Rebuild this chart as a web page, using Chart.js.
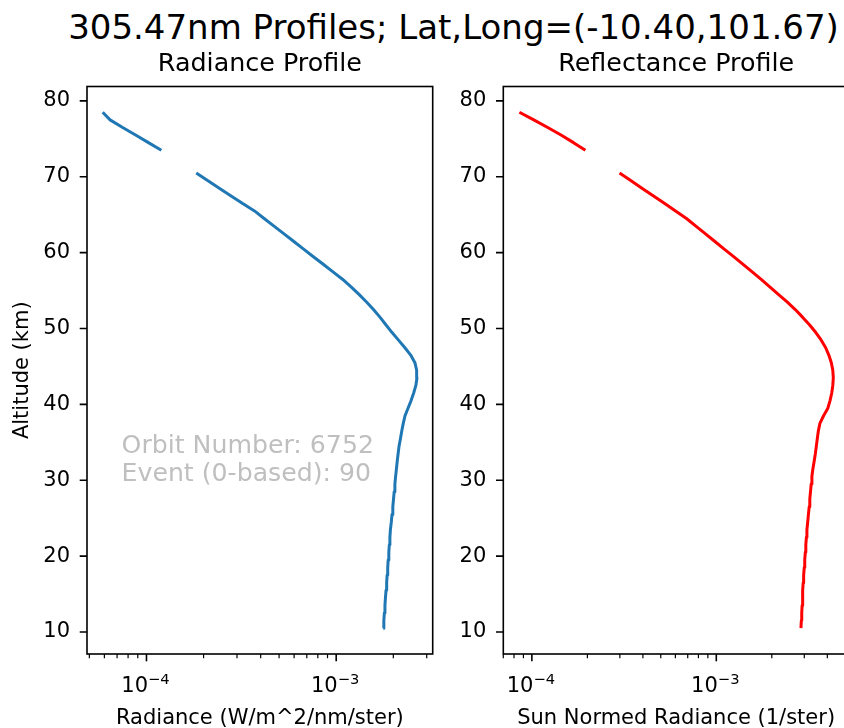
<!DOCTYPE html>
<html>
<head>
<meta charset="utf-8">
<script src="https://cdn.jsdelivr.net/npm/chart.js@4/dist/chart.umd.min.js"></script>
<style>
  html, body { margin: 0; padding: 0; background: #fff; overflow: hidden; width: 844px; height: 728px; }
  #fig { position: relative; width: 844px; height: 728px; overflow: hidden; background: #fff; }
  #suptitle { position: absolute; left: 0; top: 9.5px; width: 907px; text-align: center;
              font: 34px/1 'DejaVu Sans', sans-serif; color: #000; white-space: nowrap; }
  canvas { position: absolute; top: 0; }
  #radCanvas { left: 0; }
  #refCanvas { left: 440px; }
</style>
</head>
<body>
<div id="fig">
  <div id="suptitle">305.47nm Profiles; Lat,Long=(-10.40,101.67)</div>
  <canvas id="radCanvas" width="440" height="728"></canvas>
  <canvas id="refCanvas" width="467" height="728"></canvas>
</div>
<script>
// Tangent altitudes of the limb profile (km)
const altitudes = [
  10.5, 11.5, 12.5, 13.5, 14.5, 15.5, 16.5, 17.5, 18.5, 19.5,
  20.5, 21.5, 22.5, 23.5, 24.5, 25.5, 26.5, 27.5, 28.5, 29.5,
  30.5, 31.5, 32.5, 33.5, 34.5, 35.5, 36.5, 37.5, 38.5, 39.5,
  40.5, 41.5, 42.5, 43.5, 44.5, 45.5, 46.5, 47.5, 48.5, 49.5,
  50.5, 51.5, 52.5, 53.5, 54.5, 55.5, 56.5, 57.5, 58.5, 59.5,
  60.5, 61.5, 62.5, 63.5, 64.5, 65.5, 66.5, 67.5, 68.5, 69.5,
  70.5, 71.5, 72.5, 73.5, 74.5, 75.5, 76.5, 77.5, 78.5
];

// Radiance (W/m^2/nm/ster); null = missing sample
const radiance = [
  1.771e-3, 1.783e-3, 1.794e-3, 1.807e-3, 1.818e-3, 1.831e-3, 1.845e-3, 1.856e-3, 1.869e-3, 1.880e-3,
  1.894e-3, 1.906e-3, 1.919e-3, 1.931e-3, 1.952e-3, 1.969e-3, 1.988e-3, 2.005e-3, 2.022e-3, 2.039e-3,
  2.057e-3, 2.077e-3, 2.097e-3, 2.120e-3, 2.145e-3, 2.182e-3, 2.216e-3, 2.257e-3, 2.306e-3, 2.391e-3,
  2.482e-3, 2.561e-3, 2.630e-3, 2.666e-3, 2.655e-3, 2.600e-3, 2.470e-3, 2.298e-3, 2.125e-3, 1.965e-3,
  1.827e-3, 1.700e-3, 1.572e-3, 1.445e-3, 1.319e-3, 1.198e-3, 1.079e-3, 9.58e-4, 8.51e-4, 7.55e-4,
  6.71e-4, 5.96e-4, 5.29e-4, 4.70e-4, 4.17e-4, 3.71e-4, 3.20e-4, 2.78e-4, 2.42e-4, 2.10e-4,
  1.83e-4, null, null, 1.198e-4, 1.024e-4, 8.76e-5, 7.49e-5, 6.43e-5, 5.88e-5
];

// Sun-normalised radiance (1/ster); null = missing sample
const reflectance = [
  2.877e-3, 2.892e-3, 2.906e-3, 2.921e-3, 2.932e-3, 2.947e-3, 2.961e-3, 2.976e-3, 2.998e-3, 3.017e-3,
  3.039e-3, 3.058e-3, 3.081e-3, 3.100e-3, 3.131e-3, 3.159e-3, 3.190e-3, 3.214e-3, 3.242e-3, 3.270e-3,
  3.299e-3, 3.340e-3, 3.394e-3, 3.444e-3, 3.487e-3, 3.531e-3, 3.575e-3, 3.646e-3, 3.817e-3, 4.027e-3,
  4.138e-3, 4.226e-3, 4.283e-3, 4.310e-3, 4.283e-3, 4.205e-3, 4.076e-3, 3.913e-3, 3.701e-3, 3.457e-3,
  3.200e-3, 2.935e-3, 2.680e-3, 2.420e-3, 2.170e-3, 1.950e-3, 1.745e-3, 1.560e-3, 1.392e-3, 1.237e-3,
  1.100e-3, 9.793e-4, 8.707e-4, 7.750e-4, 6.890e-4, 6.012e-4, 5.228e-4, 4.546e-4, 3.952e-4, 3.436e-4,
  2.988e-4, null, null, 1.951e-4, 1.682e-4, 1.439e-4, 1.219e-4, 1.024e-4, 8.56e-5
];

const altitudeTicks = [10, 20, 30, 40, 50, 60, 70, 80];
const orbitNotes = ['Orbit Number: 6752', 'Event (0-based): 90'];

const FONT = "'DejaVu Sans', sans-serif";
const LABEL_PX = 21;

function isDecade(v) {
  const l = Math.log10(v);
  return Math.abs(l - Math.round(l)) < 1e-9;
}

// major (decade) and minor (2..9) ticks inside [min, max]
function logTicks(min, max) {
  const out = [];
  for (let e = Math.floor(Math.log10(min)); e <= Math.ceil(Math.log10(max)); e++) {
    for (let k = 1; k <= 9; k++) {
      const v = k * Math.pow(10, e);
      if (v >= min && v <= max) out.push(v);
    }
  }
  return out;
}

// frame, tick marks, decade labels, axis titles, subplot title and notes
function decorPlugin(cfg) {
  return {
    id: 'profileDecor',
    afterDraw(chart) {
      const { ctx, chartArea: a } = chart;
      const xs = chart.scales.x, ys = chart.scales.y;
      ctx.save();
      ctx.strokeStyle = '#000';
      ctx.lineWidth = 1.6;
      ctx.strokeRect(a.left, a.top, a.right - a.left, a.bottom - a.top);

      ctx.beginPath();
      ys.ticks.forEach(t => {
        const py = ys.getPixelForValue(t.value);
        ctx.moveTo(a.left, py); ctx.lineTo(a.left - 7.3, py);
      });
      ctx.stroke();

      xs.ticks.forEach(t => {
        const major = isDecade(t.value);
        const px = xs.getPixelForValue(t.value);
        ctx.beginPath();
        ctx.lineWidth = major ? 1.6 : 1.2;
        ctx.moveTo(px, a.bottom); ctx.lineTo(px, a.bottom + (major ? 7.3 : 4.2));
        ctx.stroke();
        if (major) {
          const exp = Math.round(Math.log10(t.value));
          const base = '10';
          const sup = (exp < 0 ? '\u2212' : '') + String(Math.abs(exp));
          ctx.font = `${LABEL_PX}px ${FONT}`;
          const wb = ctx.measureText(base).width;
          ctx.font = `14.7px ${FONT}`;
          const ws = ctx.measureText(sup).width;
          const x0 = px - (wb + ws) / 2 - 1;
          ctx.fillStyle = '#000';
          ctx.textAlign = 'left';
          ctx.textBaseline = 'alphabetic';
          ctx.font = `${LABEL_PX}px ${FONT}`;
          ctx.fillText(base, x0, a.bottom + 38);
          ctx.font = `14.7px ${FONT}`;
          ctx.fillText(sup, x0 + wb, a.bottom + 30);
        }
      });

      // axis titles
      ctx.fillStyle = '#000';
      ctx.font = `${LABEL_PX}px ${FONT}`;
      ctx.textAlign = 'center';
      ctx.textBaseline = 'alphabetic';
      ctx.fillText(cfg.xTitle, (a.left + a.right) / 2, a.bottom + 70);
      if (cfg.yTitle) {
        ctx.save();
        ctx.translate(a.left - 58.7, (a.top + a.bottom) / 2);
        ctx.rotate(-Math.PI / 2);
        ctx.fillText(cfg.yTitle, 0, 0);
        ctx.restore();
      }

      // subplot title
      ctx.font = `25.4px ${FONT}`;
      ctx.fillText(cfg.title, (a.left + a.right) / 2, a.top - 15.3);

      if (cfg.notes) {
        ctx.fillStyle = '#bfbfbf';
        ctx.font = `25.2px ${FONT}`;
        ctx.textAlign = 'left';
        const h = a.bottom - a.top;
        const x = a.left + 0.1 * (a.right - a.left);
        const y2 = a.top + 0.695 * h;
        cfg.notes.forEach((line, i) => {
          ctx.fillText(line, x, y2 - (cfg.notes.length - 1 - i) * 28);
        });
      }
      ctx.restore();
    }
  };
}

function makeProfile(canvasId, values, color, cfg) {
  const logs = values.filter(v => v != null).map(v => Math.log10(v));
  const lo = Math.min(...logs), hi = Math.max(...logs), m = (hi - lo) * 0.05;
  const yLo = Math.min(...altitudes), yHi = Math.max(...altitudes), ym = (yHi - yLo) * 0.05;
  const canvas = document.getElementById(canvasId);
  return new Chart(canvas, {
    type: 'scatter',
    data: {
      datasets: [{
        data: altitudes.map((h, i) => ({ x: values[i], y: h })),
        showLine: true,
        spanGaps: false,
        borderColor: color,
        backgroundColor: color,
        borderWidth: 3,
        borderJoinStyle: 'round',
        borderCapStyle: 'butt',
        pointRadius: 0,
        pointHoverRadius: 0,
        fill: false,
        tension: 0
      }]
    },
    options: {
      responsive: false,
      animation: false,
      devicePixelRatio: 1,
      events: [],
      layout: { padding: { left: 0, top: 86.5, right: cfg.padRight, bottom: 0 } },
      plugins: { legend: { display: false }, tooltip: { enabled: false } },
      scales: {
        x: {
          type: 'logarithmic',
          position: 'bottom',
          min: Math.pow(10, lo - m),
          max: Math.pow(10, hi + m),
          grid: { display: false, drawTicks: false },
          border: { display: false },
          ticks: { display: false },
          afterBuildTicks: s => { s.ticks = logTicks(s.min, s.max).map(v => ({ value: v })); },
          afterFit: s => { s.height = canvas.height - 654; }
        },
        y: {
          type: 'linear',
          position: 'left',
          min: yLo - ym,
          max: yHi + ym,
          grid: { display: false, drawTicks: false },
          border: { display: false },
          ticks: { padding: 17, color: '#000', font: { family: FONT, size: LABEL_PX }, autoSkip: false },
          afterBuildTicks: s => { s.ticks = altitudeTicks.map(v => ({ value: v })); },
          afterFit: s => { s.width = cfg.yWidth; }
        }
      }
    },
    plugins: [decorPlugin(cfg)]
  });
}

makeProfile('radCanvas', radiance, '#1f77b4', {
  title: 'Radiance Profile',
  xTitle: 'Radiance (W/m^2/nm/ster)',
  yTitle: 'Altitude (km)',
  yWidth: 87,
  padRight: 440 - 432.7,
  notes: orbitNotes
});

makeProfile('refCanvas', reflectance, '#ff0000', {
  title: 'Reflectance Profile',
  xTitle: 'Sun Normed Radiance (1/ster)',
  yWidth: 63.3,
  padRight: 467 - 409
});
</script>
</body>
</html>
